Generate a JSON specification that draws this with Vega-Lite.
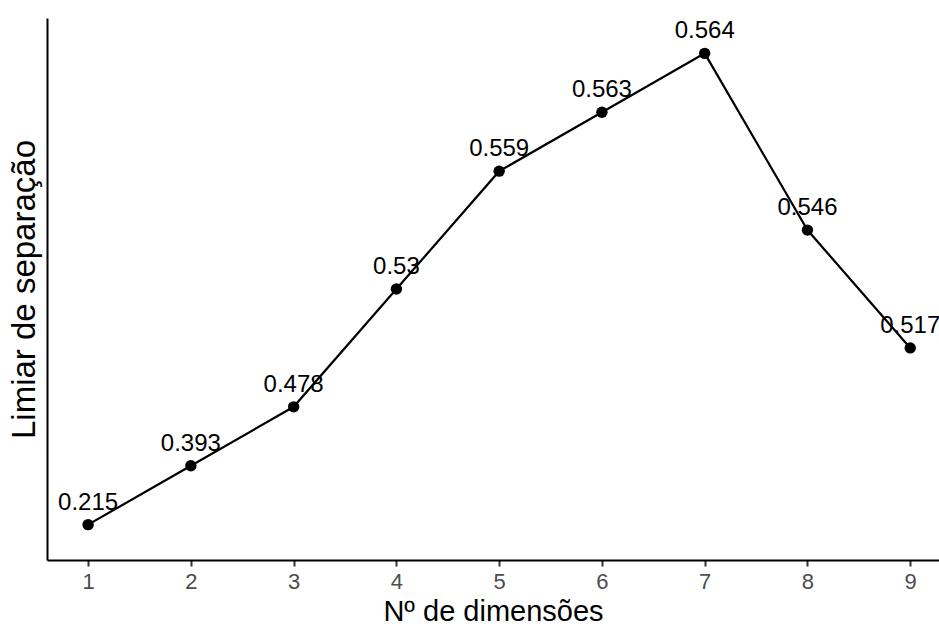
{
  "$schema": "https://vega.github.io/schema/vega-lite/v6.json",
  "autosize": {"type": "none"},
  "padding": {"left": 47, "top": 18, "right": 0, "bottom": 72},
  "width": 892,
  "height": 542,
  "background": "white",
  "config": {"view": {"stroke": null}, "font": "Liberation Sans"},
  "data": {"values": [
    {"dim": 1, "value": 0.215, "label": "0.215"},
    {"dim": 2, "value": 0.393, "label": "0.393"},
    {"dim": 3, "value": 0.478, "label": "0.478"},
    {"dim": 4, "value": 0.53, "label": "0.53"},
    {"dim": 5, "value": 0.559, "label": "0.559"},
    {"dim": 6, "value": 0.563, "label": "0.563"},
    {"dim": 7, "value": 0.564, "label": "0.564"},
    {"dim": 8, "value": 0.546, "label": "0.546"},
    {"dim": 9, "value": 0.517, "label": "0.517"}
  ]},
  "encoding": {
    "x": {
      "field": "dim", "type": "quantitative",
      "scale": {"domain": [0.6, 9.28], "nice": false, "zero": false},
      "axis": {
        "values": [1, 2, 3, 4, 5, 6, 7, 8, 9],
        "format": "d",
        "title": "Nº de dimensões",
        "titleFontSize": 29, "titleFontWeight": "normal", "titleColor": "black", "titlePadding": 5,
        "labelFontSize": 22, "labelColor": "#4d4d4d", "labelPadding": 5,
        "tickColor": "#333333", "tickSize": 6, "tickWidth": 2,
        "domainColor": "black", "domainWidth": 2,
        "grid": false
      }
    },
    "y": {
      "field": "value", "type": "ordinal", "sort": "descending",
      "scale": {"type": "point", "padding": 0.6},
      "axis": {
        "labels": false, "ticks": false,
        "title": "Limiar de separação",
        "titleFontSize": 33, "titleFontWeight": "normal", "titleColor": "black", "titlePadding": 6,
        "domainColor": "black", "domainWidth": 2,
        "grid": false
      }
    }
  },
  "layer": [
    {"mark": {"type": "text", "fontSize": 24, "dy": -22, "color": "black"},
     "encoding": {"text": {"field": "label"}}},
    {"mark": {"type": "line", "color": "black", "strokeWidth": 2.2},
     "encoding": {"order": {"field": "dim", "type": "quantitative"}}},
    {"mark": {"type": "point", "filled": true, "color": "black", "size": 130, "opacity": 1}}
  ]
}
